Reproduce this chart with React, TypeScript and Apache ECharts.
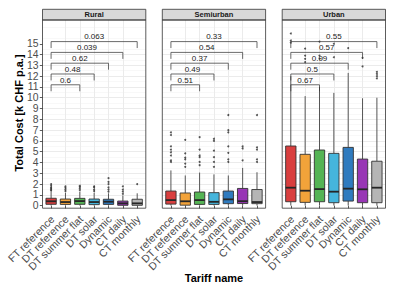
import React, { useEffect, useRef } from "react";
import * as echarts from "echarts";

// ---------- data ----------
const categories = [
  "FT reference",
  "DT reference",
  "DT summer flat",
  "DT solar",
  "Dynamic",
  "CT daily",
  "CT monthly",
];
const panelNames = ["Rural", "Semiurban", "Urban"];
const yTicks = [0, 1, 2, 3, 4, 5, 6, 7, 8, 9, 10, 11, 12, 13, 14, 15];
const xTicks = [1, 2, 3, 4, 5, 6, 7];

// [min, q1, median, q3, max]
const ruralBoxes = [
  [0.02, 0.13, 0.41, 0.69, 1.3],
  [0.02, 0.12, 0.34, 0.62, 1.2],
  [0.02, 0.13, 0.43, 0.68, 1.3],
  [0.02, 0.1, 0.34, 0.62, 1.2],
  [0.02, 0.12, 0.37, 0.6, 1.15],
  [0.0, 0.04, 0.22, 0.43, 0.95],
  [0.0, 0.04, 0.22, 0.6, 1.15],
];
const ruralOutliers = [
  [1.4, 1.5, 1.6, 1.7, 1.85, 2.0],
  [1.35, 1.5, 1.65, 1.8],
  [1.45, 1.6, 1.75, 1.85],
  [1.35, 1.5, 1.7, 1.8],
  [1.3, 1.5, 1.7, 2.0, 2.2, 2.55],
  [1.1, 1.3, 1.5, 1.8],
  [2.0],
];
const semiBoxes = [
  [0.02, 0.15, 0.52, 1.36, 3.27],
  [0.02, 0.05, 0.41, 1.18, 2.8],
  [0.02, 0.12, 0.52, 1.27, 3.07],
  [0.02, 0.12, 0.36, 1.21, 2.9],
  [0.02, 0.19, 0.59, 1.36, 2.8],
  [0.0, 0.2, 0.42, 1.6, 3.5],
  [0.02, 0.19, 0.34, 1.5, 3.1],
];
const semiOutliers = [
  [6.8, 6.55, 5.5, 5.2, 4.95, 4.65, 4.2, 4.05],
  [6.1, 4.85, 4.45, 4.3, 3.9, 3.6],
  [6.35, 5.2, 4.65, 4.5, 4.05, 3.75],
  [6.2, 6.0, 5.1, 4.5, 4.05, 3.6],
  [8.4, 7.0, 6.8, 5.5, 4.9, 4.3, 4.05],
  [5.5, 5.3, 4.2],
  [8.4, 5.4, 5.2, 4.3, 4.05],
];
const urbanBoxes = [
  [0.02, 0.37, 1.67, 5.53, 12.0],
  [0.02, 0.31, 1.39, 4.76, 10.15],
  [0.02, 0.37, 1.54, 5.16, 11.0],
  [0.02, 0.28, 1.3, 4.85, 10.45],
  [0.02, 0.43, 1.58, 5.4, 12.3],
  [0.0, 0.28, 1.52, 4.32, 9.95],
  [0.0, 0.28, 1.67, 4.12, 10.0],
];
const urbanOutliers = [
  [15.95, 15.3, 15.1],
  [14.55, 13.9, 13.6, 13.3],
  [15.2, 13.9, 13.6],
  [15.0, 13.75],
  [14.6],
  [13.7, 12.9],
  [12.4, 12.2, 12.0, 11.8],
];

// comparisons: FT reference (1) vs categories below
const bracketFrom = 1;
const bracketTargets = [3, 4, 5, 6, 7];
const bracketHeights = [11.2, 12.2, 13.2, 14.2, 15.2];
const ruralP = ["0.6", "0.48", "0.62", "0.039", "0.063"];
const semiP = ["0.51", "0.49", "0.37", "0.54", "0.33"];
const urbanP = ["0.67", "0.5", "0.99", "0.57", "0.55"];

const panelBoxes = [ruralBoxes, semiBoxes, urbanBoxes];
const panelOutliers = [ruralOutliers, semiOutliers, urbanOutliers];
const panelP = [ruralP, semiP, urbanP];

// ---------- styles / layout ----------
const boxColors = ["#d93f3f", "#f2a33a", "#55b455", "#45b5dc", "#2f7bbf", "#9836b5", "#b5b5b5"];
const FONT = "'Liberation Sans', Arial, Helvetica, sans-serif";
const panelLefts = [42.5, 162.3, 282.2];
const panelWidth = 103.3;
const plotTop = 20;
const plotHeight = 188.2;
const stripTop = 9.3;
const yMin = -0.23;
const yMax = 17.2;

export default function App() {
  const ref = useRef<HTMLDivElement>(null);

  useEffect(() => {
    if (!ref.current) return;
    const chart = echarts.init(ref.current, undefined, { renderer: "svg" });

    const grid = panelLefts.map((l) => ({
      left: l,
      top: plotTop,
      width: panelWidth,
      height: plotHeight,
      containLabel: false,
    }));

    const xAxis = panelLefts.map((_, i) => ({
      gridIndex: i,
      type: "value",
      min: 0.4,
      max: 7.6,
      minInterval: 1,
      maxInterval: 1,
      axisLine: { show: false },
      axisTick: {
        show: true,
        length: 2.7,
        customValues: xTicks,
        lineStyle: { color: "#333", width: 0.8 },
      },
      axisLabel: { show: false },
      splitLine: {
        show: true,
        showMinLine: false,
        showMaxLine: false,
        lineStyle: { color: "#ebebeb", width: 1 },
      },
    }));

    const yAxis = panelLefts.map((_, i) => ({
      gridIndex: i,
      type: "value",
      min: yMin,
      max: yMax,
      minInterval: 1,
      maxInterval: 1,
      axisLine: { show: false },
      axisTick: {
        show: i === 0,
        length: 2.7,
        customValues: yTicks,
        lineStyle: { color: "#333", width: 0.8 },
      },
      axisLabel: {
        show: i === 0,
        customValues: yTicks,
        showMinLabel: true,
        showMaxLabel: true,
        margin: 4,
        fontSize: 10.4,
        fontFamily: FONT,
        color: "#4d4d4d",
        formatter: (v: number) =>
          Math.abs(v - Math.round(v)) < 1e-6 && v >= 0 && v <= 15 ? String(Math.round(v)) : "",
      },
      splitLine: {
        show: true,
        showMinLine: false,
        showMaxLine: false,
        lineStyle: { color: "#ebebeb", width: 1 },
      },
      minorTick: { show: false, splitNumber: 2 },
      minorSplitLine: { show: true, lineStyle: { color: "#f3f3f3", width: 0.6 } },
    }));

    const series: any[] = [];
    panelLefts.forEach((_, i) => {
      series.push({
        type: "custom",
        xAxisIndex: i,
        yAxisIndex: i,
        z: 2,
        encode: { x: 0, y: [1, 2, 3, 4, 5] },
        data: panelBoxes[i].map((s, k) => [k + 1, ...s]),
        renderItem: (params: any, api: any) => {
          const x = api.value(0);
          const lo = api.coord([x, api.value(1)]);
          const q1 = api.coord([x, api.value(2)]);
          const md = api.coord([x, api.value(3)]);
          const q3 = api.coord([x, api.value(4)]);
          const hi = api.coord([x, api.value(5)]);
          const w = api.size([1, 0])[0] * 0.72;
          const color = boxColors[params.dataIndex];
          const cx = q1[0];
          return {
            type: "group",
            children: [
              {
                type: "line",
                shape: { x1: cx, y1: q3[1], x2: cx, y2: hi[1] },
                style: { stroke: "#555", lineWidth: 1 },
              },
              {
                type: "line",
                shape: { x1: cx, y1: q1[1], x2: cx, y2: lo[1] },
                style: { stroke: "#555", lineWidth: 1 },
              },
              {
                type: "rect",
                shape: { x: cx - w / 2, y: q3[1], width: w, height: q1[1] - q3[1] },
                style: { fill: color, stroke: "#333", lineWidth: 0.9 },
              },
              {
                type: "line",
                shape: { x1: cx - w / 2, y1: md[1], x2: cx + w / 2, y2: md[1] },
                style: { stroke: "#262626", lineWidth: 1.8 },
              },
            ],
          };
        },
      });
      const pts: number[][] = [];
      panelOutliers[i].forEach((arr, k) => arr.forEach((v) => pts.push([k + 1, v])));
      series.push({
        type: "scatter",
        xAxisIndex: i,
        yAxisIndex: i,
        z: 3,
        symbol: "circle",
        symbolSize: 2,
        itemStyle: { color: "#2b2b2b" },
        data: pts,
      });
      const labels = panelP[i];
      series.push({
        type: "custom",
        xAxisIndex: i,
        yAxisIndex: i,
        z: 4,
        data: bracketTargets.map((t, j) => [bracketFrom, t, bracketHeights[j], j]),
        renderItem: (params: any, api: any) => {
          const a = api.coord([api.value(0), api.value(2)]);
          const b = api.coord([api.value(1), api.value(2)]);
          const tip = api.size([0, 0.6])[1];
          return {
            type: "group",
            children: [
              {
                type: "polyline",
                shape: {
                  points: [
                    [a[0], a[1] + tip],
                    [a[0], a[1]],
                    [b[0], b[1]],
                    [b[0], b[1] + tip],
                  ],
                },
                style: { stroke: "#3a3a3a", lineWidth: 0.75, fill: null },
              },
              {
                type: "text",
                x: (a[0] + b[0]) / 2,
                y: a[1] - 0.6,
                style: {
                  text: labels[params.dataIndex],
                  fontSize: 8,
                  fontFamily: FONT,
                  fill: "#222",
                  align: "center",
                  verticalAlign: "bottom",
                },
              },
            ],
          };
        },
      });
      // category tick labels, placed at the axis positions of each category
      series.push({
        type: "custom",
        xAxisIndex: i,
        yAxisIndex: i,
        z: 5,
        clip: false,
        silent: true,
        data: xTicks.map((v) => [v, yMin]),
        renderItem: (params: any, api: any) => {
          const p = api.coord([api.value(0), api.value(1)]);
          return {
            type: "text",
            x: p[0] + 1.2,
            y: p[1] + 9,
            rotation: Math.PI / 4,
            style: {
              text: categories[params.dataIndex],
              fontSize: 10.6,
              fontFamily: FONT,
              fill: "#4d4d4d",
              align: "right",
              verticalAlign: "middle",
            },
          };
        },
      });
    });

    const graphic: any[] = [];
    panelLefts.forEach((l, i) => {
      graphic.push({
        type: "rect",
        z: 100,
        shape: { x: l, y: stripTop, width: panelWidth, height: plotTop - stripTop },
        style: { fill: "#d9d9d9", stroke: "#333", lineWidth: 0.8 },
      });
      graphic.push({
        type: "text",
        z: 101,
        x: l + panelWidth / 2,
        y: (stripTop + plotTop) / 2 + 0.3,
        style: {
          text: panelNames[i],
          fontSize: 7.5,
          fontWeight: "bold",
          fontFamily: FONT,
          fill: "#1a1a1a",
          align: "center",
          verticalAlign: "middle",
        },
      });
      graphic.push({
        type: "rect",
        z: 100,
        shape: { x: l, y: plotTop, width: panelWidth, height: plotHeight },
        style: { fill: null, stroke: "#333", lineWidth: 0.8 },
      });
    });
    graphic.push({
      type: "text",
      x: 19,
      y: 113,
      rotation: Math.PI / 2,
      style: {
        text: "Total Cost [k CHF p.a.]",
        fontSize: 11,
        fontWeight: "bold",
        fontFamily: FONT,
        fill: "#000",
        align: "center",
        verticalAlign: "middle",
      },
    });
    graphic.push({
      type: "text",
      x: 214,
      y: 277.5,
      style: {
        text: "Tariff name",
        fontSize: 11,
        fontWeight: "bold",
        fontFamily: FONT,
        fill: "#000",
        align: "center",
        verticalAlign: "middle",
      },
    });

    chart.setOption({
      animation: false,
      backgroundColor: "#fff",
      grid,
      xAxis,
      yAxis,
      series,
      graphic,
    } as any);

    return () => chart.dispose();
  }, []);

  return (
    <div
      ref={ref}
      style={{ position: "fixed", left: 0, top: 0, width: 394, height: 291 }}
    />
  );
}
